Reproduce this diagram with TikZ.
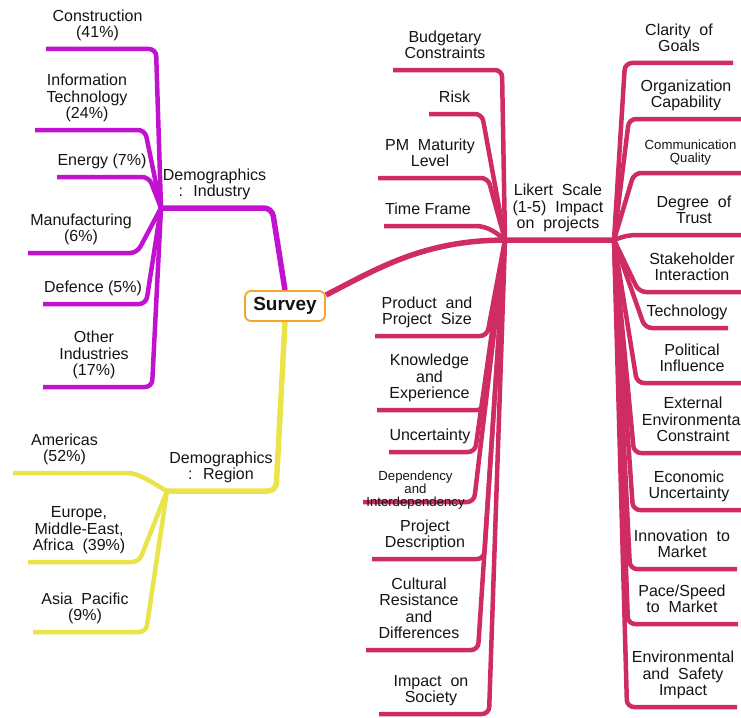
\documentclass[tikz,border=0pt]{standalone}
\usepackage{fontspec}
\setmainfont{Liberation Sans}
\definecolor{indcol}{HTML}{C012CF}
\definecolor{regcol}{HTML}{EAE44B}
\definecolor{likcol}{HTML}{CE2C62}
\definecolor{rootcol}{HTML}{F5A623}
\definecolor{ink}{HTML}{141414}
\newcommand\labfont{\fontsize{16}{16.5}\selectfont}
\newcommand\smlfont{\fontsize{13.2}{13.2}\selectfont}
\pgfdeclarelayer{lines}
\pgfsetlayers{lines,main}
% one leaf: #1 style, #2 junction, #3 corner x, #4 free end x, #5 line y,
% #6 name, #7 label centre x, #8 label text
\newcommand\leaf[8]{%
  \coordinate (#6k) at (#3,#5);
  \coordinate (#6e) at (#4,#5);
  \begin{pgfonlayer}{lines}\draw[kid,#1] (#2) -- (#6k) -- (#6e);\end{pgfonlayer}
  \node[lab] (#6) at (#7,#5-6) {#8};
}
\begin{document}
\begin{tikzpicture}[x=1pt,y=-1pt,
  kid/.style={line width=4.5pt, rounded corners=7pt},
  trunk/.style={line width=5.5pt, rounded corners=8pt},
  lab/.style={anchor=south, align=center, inner sep=0pt, font=\labfont,
    text=ink, execute at end node={\strut}},
  smalllab/.style={lab, font=\smlfont}]
\useasboundingbox (0,0) rectangle (741,717);

% root
\node[draw=rootcol, line width=1.8pt, rounded corners=6pt, fill=white,
  minimum width=80pt, minimum height=30pt, inner sep=0pt,
  font=\fontsize{19}{20}\selectfont\bfseries, text=ink] (survey) at (285,306) {Survey};

% junctions
\coordinate (J1) at (161,208);
\coordinate (J2) at (167,491);
\coordinate (J3) at (505,240);
\coordinate (J4) at (614,240);
\coordinate (indturn) at (272,208);
\coordinate (regturn) at (276,491);

% trunks from the root
\begin{pgfonlayer}{lines}
\draw[trunk,indcol] (survey.north) -- (indturn) -- (J1);
\draw[trunk,regcol] (survey.south) -- (regturn) -- (J2);
\draw[trunk,likcol] (survey.15) .. controls (375,270) and (420,242) .. (J3) -- (J4);
\end{pgfonlayer}
\node[lab] (ind) at (214.5,202) {Demographics\\:~ Industry};
\node[lab] (reg) at (221,485) {Demographics\\:~ Region};
\node[lab] (lik) at (558,234) {Likert~ Scale\\(1-5)~ Impact\\on~ projects};

% ---------- Demographics : Industry ----------
\leaf{indcol}{J1}{156}{46}{49}{con}{97.5}{Construction\\(41\%)}
\leaf{indcol}{J1}{145}{35}{130}{it}{87}{Information\\Technology\\(24\%)}
\leaf{indcol}{J1}{149}{57}{177}{ene}{102}{Energy (7\%)}
\leaf{indcol}{J1}{137}{28}{253}{man}{81}{Manufacturing\\(6\%)}
\leaf{indcol}{J1}{146}{43}{304}{def}{93}{Defence (5\%)}
\leaf{indcol}{J1}{152}{43}{387}{oth}{94}{Other\\Industries\\(17\%)}

% ---------- Demographics : Region ----------
\coordinate (amk) at (120,473);
\coordinate (ame) at (13,473);
\begin{pgfonlayer}{lines}
\draw[kid,regcol] (J2) .. controls (152,483) and (140,473) .. (amk) -- (ame);
\end{pgfonlayer}
\node[lab] (am) at (64.5,467) {Americas\\(52\%)};
\leaf{regcol}{J2}{139}{28}{562}{eur}{79}{Europe,\\Middle-East,\\Africa~ (39\%)}
\leaf{regcol}{J2}{146}{33}{632}{asi}{85}{Asia~ Pacific\\(9\%)}

% ---------- Likert, left side ----------
\leaf{likcol}{J3}{502}{393}{70}{bud}{445}{Budgetary\\Constraints}
\leaf{likcol}{J3}{482}{429}{114}{risk}{454.5}{Risk}
\leaf{likcol}{J3}{488}{378}{178}{pm}{430}{PM~ Maturity\\Level}
\coordinate (tfk) at (468,226);
\coordinate (tfe) at (384,226);
\begin{pgfonlayer}{lines}
\draw[kid,likcol] (J3) .. controls (497,233) and (488,226) .. (tfk) -- (tfe);
\end{pgfonlayer}
\node[lab] (tf) at (428,220) {Time Frame};
\leaf{likcol}{J3}{487}{375}{336}{pps}{427}{Product~ and\\Project~ Size}
\leaf{likcol}{J3}{484}{377}{410}{kno}{429.5}{Knowledge\\and\\Experience}
\leaf{likcol}{J3}{475}{389}{452}{unc}{430}{Uncertainty}
\coordinate (depk) at (474,502);
\coordinate (depe) at (363,502);
\begin{pgfonlayer}{lines}
\draw[kid,likcol] (J3) -- (depk) -- (depe);
\end{pgfonlayer}
\node[smalllab] (dep) at (415.5,511) {Dependency\\and\\Interdependency};
\leaf{likcol}{J3}{484}{372}{559}{pd}{425}{Project\\Description}
\leaf{likcol}{J3}{478}{366}{650}{cul}{419}{Cultural\\Resistance\\and\\Differences}
\leaf{likcol}{J3}{489}{379}{714}{ims}{431}{Impact~ on\\Society}

% ---------- Likert, right side ----------
\leaf{likcol}{J4}{625}{733}{63}{clar}{679}{Clarity~ of\\Goals}
\leaf{likcol}{J4}{629}{745}{119}{org}{686}{Organization\\Capability}
\coordinate (comk) at (634,173);
\coordinate (come) at (745,173);
\begin{pgfonlayer}{lines}
\draw[kid,likcol] (J4) -- (comk) -- (come);
\end{pgfonlayer}
\node[smalllab] (com) at (690.5,166.5) {Communication\\Quality};
\coordinate (dtk) at (645,235);
\coordinate (dte) at (745,235);
\begin{pgfonlayer}{lines}
\draw[kid,likcol] (J4) .. controls (624,236) and (630,235) .. (dtk) -- (dte);
\end{pgfonlayer}
\node[lab] (dt) at (694,229) {Degree~ of\\Trust};
\leaf{likcol}{J4}{639}{745}{292}{sta}{692}{Stakeholder\\Interaction}
\leaf{likcol}{J4}{645}{728}{328}{tec}{687}{Technology}
\leaf{likcol}{J4}{637}{745}{383}{pol}{692}{Political\\Influence}
\leaf{likcol}{J4}{634}{745}{453}{ext}{693}{External\\Environmental\\Constraint}
\leaf{likcol}{J4}{633}{745}{510}{eco}{689}{Economic\\Uncertainty}
\leaf{likcol}{J4}{630}{737}{569}{inn}{682}{Innovation~ to\\Market}
\leaf{likcol}{J4}{628}{738}{624}{pac}{682}{Pace/Speed\\to~ Market}
\leaf{likcol}{J4}{627}{737}{707}{env}{683}{Environmental\\and~ Safety\\Impact}
\end{tikzpicture}
\end{document}
